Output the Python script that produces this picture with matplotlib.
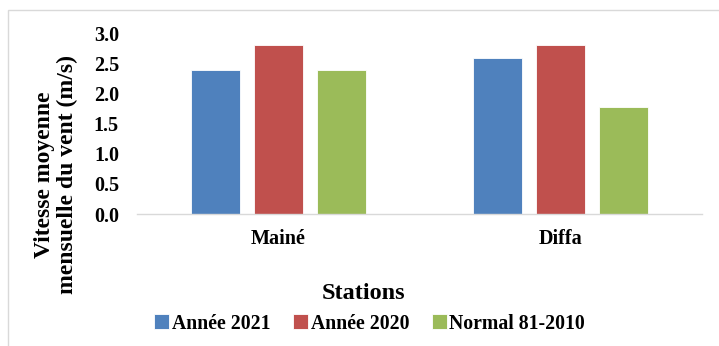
import numpy as np
import matplotlib.pyplot as plt
from matplotlib.patches import Rectangle

plt.rcParams['font.family'] = 'Liberation Serif'
plt.rcParams['font.weight'] = 'bold'

stations = ['Mainé', 'Diffa']
series_names = ['Année 2021', 'Année 2020', 'Normal 81-2010']
annee_2021 = [2.38, 2.58]
annee_2020 = [2.81, 2.81]
normal_81_2010 = [2.39, 1.77]
colors = ['#4F81BD', '#C0504D', '#9BBB59']

fig = plt.figure(figsize=(7.19, 3.46), dpi=100)
ax = fig.add_axes([0.1905, 0.3815, 0.786, 0.523])

x = np.arange(len(stations))
width = 0.173
step = 0.223
for i, (vals, name) in enumerate(zip([annee_2021, annee_2020, normal_81_2010], series_names)):
    ax.bar(x + (i - 1) * step, vals, width, color=colors[i], label=name,
           edgecolor='white', linewidth=0.6)

ax.set_xlim(-0.5, 1.5)
ax.set_ylim(0, 3.0)
ax.set_yticks(np.arange(0, 3.01, 0.5))
ax.set_yticklabels([f'{v:.1f}' for v in np.arange(0, 3.01, 0.5)])
ax.set_xticks(x)
ax.set_xticklabels(stations)
ax.tick_params(axis='both', length=0, labelsize=14.5)
ax.tick_params(axis='x', pad=11)
ax.tick_params(axis='y', pad=13)
for s in ['top', 'right', 'left']:
    ax.spines[s].set_visible(False)
ax.spines['bottom'].set_color('#d9d9d9')
ax.spines['bottom'].set_linewidth(1.0)

fig.text(56 / 719, 1 - 175 / 346, 'Vitesse moyenne\nmensuelle du vent (m/s)',
         rotation=90, ha='center', va='center', fontsize=17, fontweight='bold',
         linespacing=1.15)
fig.text(0.506, 0.153, 'Stations', ha='center', va='center', fontsize=17.5,
         fontweight='bold')

fig.legend(loc='center', bbox_to_anchor=(0.514, 0.065), ncol=3, frameon=False,
           fontsize=14.2, handlelength=0.75, handleheight=0.75, handletextpad=0.15,
           columnspacing=1.15)

# thin outer frame of the chart area
fig.patches.append(Rectangle((8 / 719, -0.05), 1.0, 1 - 10 / 346 + 0.05,
                             transform=fig.transFigure, fill=False,
                             edgecolor='#d9d9d9', linewidth=1.0))

fig.savefig('out.png', dpi=100)
